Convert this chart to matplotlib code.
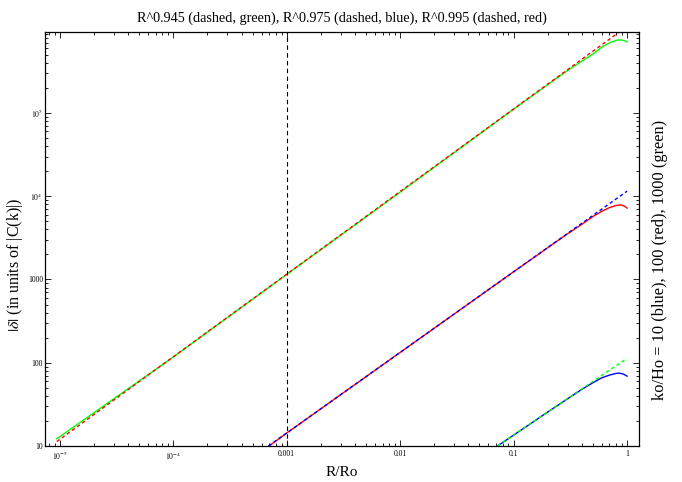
import numpy as np
import matplotlib
matplotlib.use('Agg')
import matplotlib.pyplot as plt
from matplotlib.ticker import LogLocator, FixedLocator, NullFormatter

plt.rcParams['font.family'] = ['Liberation Serif', 'DejaVu Serif']
plt.rcParams['mathtext.fontset'] = 'stix'

# solid curves, values
r_green = [9.4e-6, 1e-4, 1e-3, 1e-2, 0.1, 0.3, 0.4, 0.5, 0.6, 0.7, 0.8, 0.85, 0.9, 0.95, 1.0]
v_green = [12.2, 117, 1150, 1.12e4, 1.11e5, 3.25e5, 4.2e5, 5.1e5, 6.2e5, 6.95e5, 7.45e5, 7.56e5, 7.5e5, 7.4e5, 7.15e5]

r_red = [7.0e-4, 1e-3, 1e-2, 0.1, 0.3, 0.4, 0.5, 0.6, 0.7, 0.8, 0.87, 0.9, 0.95, 1.0]
v_red = [10, 14.3, 133, 1237, 3.55e3, 4.6e3, 5.7e3, 6.6e3, 7.3e3, 7.75e3, 7.85e3, 7.8e3, 7.6e3, 7.2e3]

r_blue = [0.072, 0.1, 0.2, 0.3, 0.4, 0.5, 0.6, 0.7, 0.8, 0.85, 0.9, 0.95, 1.0]
v_blue = [10, 13.5, 25.6, 37, 48, 57.5, 66, 71, 74.5, 75, 74, 72, 69]

# dashed power laws, end points
r_fit_995 = [9.4e-6, 1.15]
v_fit_995 = [11.3, 1.26e6]
r_fit_975 = [6.9e-4, 1.0]
v_fit_975 = [10, 1.15e4]
r_fit_945 = [0.072, 1.0]
v_fit_945 = [10, 113]

x_ticks = [1e-5, 1e-4, 1e-3, 1e-2, 0.1, 1]
x_labels = [r'$10^{-5}$', r'$10^{-4}$', '0.001', '0.01', '0.1', '1']
y_ticks = [10, 100, 1000, 1e4, 1e5]
y_labels = ['10', '100', '1000', r'$10^{4}$', r'$10^{5}$']

fig = plt.figure(figsize=(6.82, 4.82), dpi=100)
ax = fig.add_axes([0.066, 0.0747, 0.871, 0.859])

ax.plot(r_green, v_green, color=(0, 1, 0), lw=1.0)
ax.plot(r_red, v_red, color=(1, 0, 0), lw=1.0)
ax.plot(r_blue, v_blue, color=(0, 0, 1), lw=1.0)
ax.plot(r_fit_995, v_fit_995, color=(1, 0, 0), lw=1.0, ls=(0, (2.5, 2)))
ax.plot(r_fit_975, v_fit_975, color=(0, 0, 1), lw=1.0, ls=(0, (2.5, 2)))
ax.plot(r_fit_945, v_fit_945, color=(0, 1, 0), lw=1.0, ls=(0, (2.5, 2)))
ax.axvline(1e-3, color='black', lw=0.8, ls=(0, (4, 3)))

ax.set_xscale('log')
ax.set_yscale('log')
ax.set_xlim(7.4e-6, 1.276)
ax.set_ylim(10, 9.4e5)

ax.xaxis.set_major_locator(FixedLocator(x_ticks))
ax.set_xticklabels(x_labels)
ax.yaxis.set_major_locator(FixedLocator(y_ticks))
ax.set_yticklabels(y_labels)
ax.xaxis.set_minor_locator(LogLocator(base=10, subs=np.arange(2, 10)))
ax.yaxis.set_minor_locator(LogLocator(base=10, subs=np.arange(2, 10)))
ax.xaxis.set_minor_formatter(NullFormatter())
ax.yaxis.set_minor_formatter(NullFormatter())
ax.tick_params(which='both', direction='in', top=True, right=True, labelsize=5.5,
               width=0.6, pad=3)
ax.tick_params(axis='y', which='both', pad=1.5)
ax.tick_params(which='major', length=4)
ax.tick_params(which='minor', length=2)
for s in ax.spines.values():
    s.set_linewidth(0.9)

ax.set_title('R^0.945 (dashed, green), R^0.975 (dashed, blue), R^0.995 (dashed, red)',
             fontsize=10.2, pad=7)
ax.set_xlabel('R/Ro', fontsize=11, labelpad=3)
fig.text(0.022, 0.45, r'$|\delta|$ (in units of |C(k)|)', rotation=90,
         ha='center', va='center', fontsize=11.5)
fig.text(0.968, 0.46, 'ko/Ho = 10 (blue), 100 (red), 1000 (green)', rotation=90,
         ha='center', va='center', fontsize=11.8)

fig.savefig('out.png', dpi=100)
